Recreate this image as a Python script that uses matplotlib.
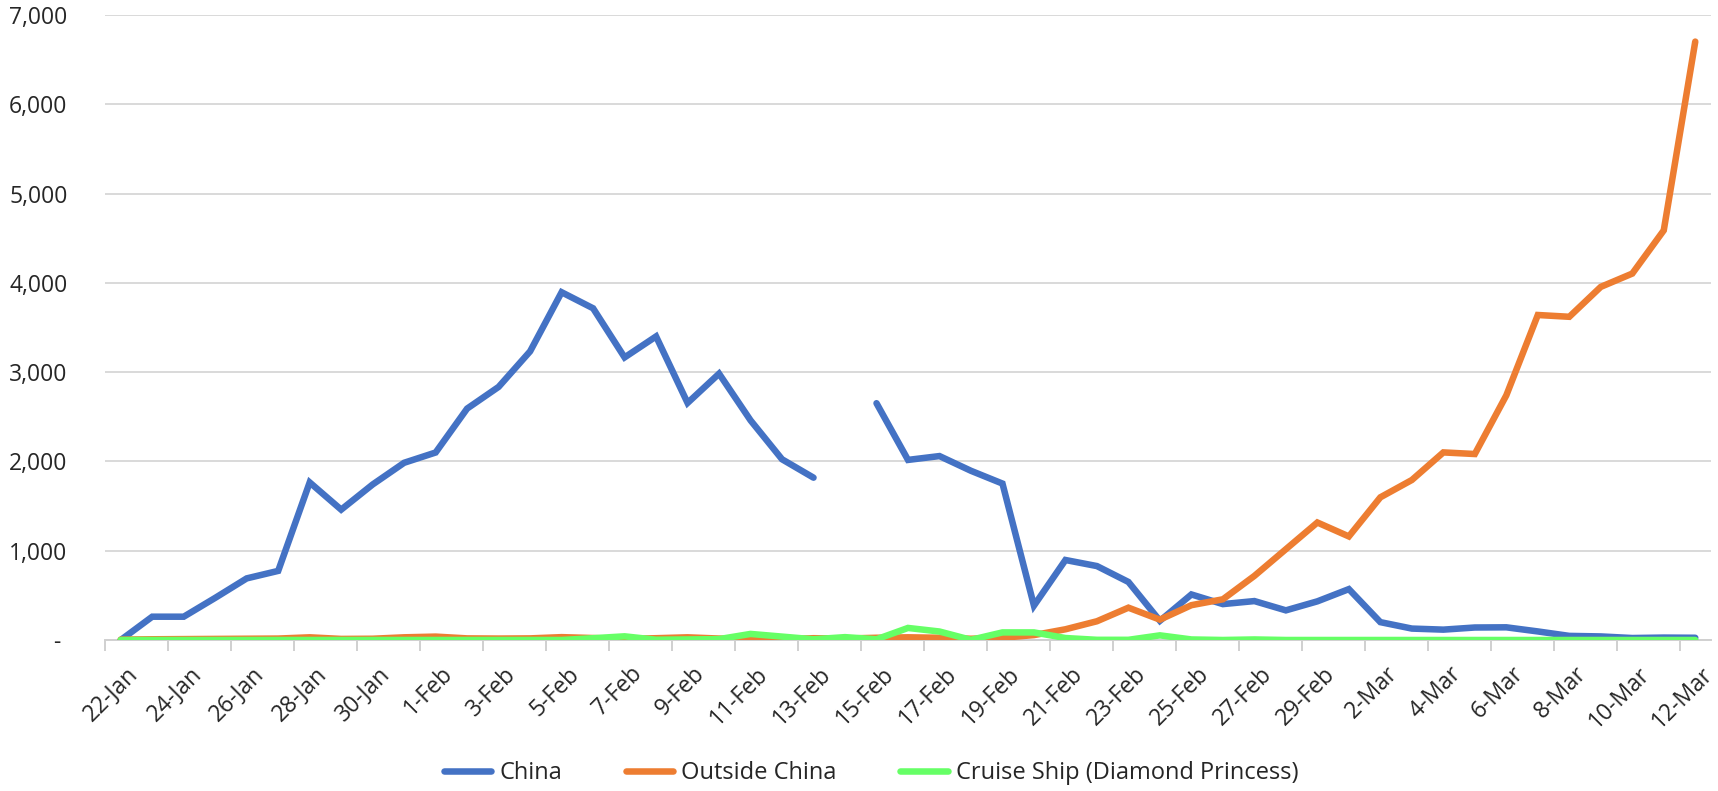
import numpy as np
import matplotlib
matplotlib.use("Agg")
import matplotlib.pyplot as plt
from matplotlib.ticker import FixedLocator, FuncFormatter
from matplotlib.transforms import ScaledTranslation

plt.rcParams['font.family'] = ['Open Sans', 'DejaVu Sans']

dates = ["22-Jan", "23-Jan", "24-Jan", "25-Jan", "26-Jan", "27-Jan", "28-Jan", "29-Jan", "30-Jan", "31-Jan",
         "1-Feb", "2-Feb", "3-Feb", "4-Feb", "5-Feb", "6-Feb", "7-Feb", "8-Feb", "9-Feb", "10-Feb",
         "11-Feb", "12-Feb", "13-Feb", "14-Feb", "15-Feb", "16-Feb", "17-Feb", "18-Feb", "19-Feb", "20-Feb",
         "21-Feb", "22-Feb", "23-Feb", "24-Feb", "25-Feb", "26-Feb", "27-Feb", "28-Feb", "29-Feb", "1-Mar",
         "2-Mar", "3-Mar", "4-Mar", "5-Mar", "6-Mar", "7-Mar", "8-Mar", "9-Mar", "10-Mar", "11-Mar", "12-Mar"]

china = [0, 261, 261, 472, 690, 774, 1765, 1460, 1742, 1985,
         2100, 2592, 2835, 3233, 3895, 3715, 3165, 3400, 2655, 2983,
         2460, 2024, 1818, np.nan, 2652, 2017, 2060, 1895, 1752, 385,
         896, 828, 650, 215, 510, 402, 436, 332, 433, 570,
         200, 128, 116, 140, 142, 96, 46, 40, 22, 27, 25]

outside = [4, 8, 10, 12, 14, 16, 30, 12, 14, 30,
           38, 18, 16, 18, 32, 22, 12, 20, 30, 16,
           10, 10, 20, 16, 25, 30, 25, 14, 25, 55,
           120, 210, 362, 228, 390, 456, 718, 1017, 1316, 1160,
           1598, 1792, 2101, 2083, 2740, 3640, 3620, 3955, 4104, 4588, 6702]

cruise = [0, 0, 0, 0, 0, 0, 0, 0, 0, 0,
          0, 0, 0, 0, 0, 20, 41, 3, 6, 10,
          68, 38, 8, 32, 8, 135, 95, 2, 85, 85,
          22, 2, 2, 52, 6, 0, 6, 0, 0, 0,
          0, 0, 0, 0, 0, 0, 0, 0, 0, 0, 0]

series = [("China", china, "#4472C4"),
          ("Outside China", outside, "#ED7D31"),
          ("Cruise Ship (Diamond Princess)", cruise, "#66FF66")]

TXT = '#262626'
W, H = 1718, 791
fig = plt.figure(figsize=(W / 100, H / 100), dpi=100)
ax = fig.add_axes([105 / W, 1 - 640 / H, (1711 - 105) / W, (640 - 15) / H])

x = np.arange(len(dates))
handles = []
for name, vals, col in series:
    h, = ax.plot(x, vals, color=col, lw=4.7, solid_joinstyle='miter', solid_capstyle='round', label=name, zorder=3)
    handles.append(h)

ax.set_xlim(-0.5, len(dates) - 0.5)
ax.set_ylim(0, 7000)
ax.set_yticks(np.arange(0, 7001, 1000))
ax.yaxis.set_major_formatter(FuncFormatter(lambda v, p: "- " if v == 0 else f"{int(v):,}"))
ax.grid(axis='y', color='#d9d9d9', lw=1.4, zorder=0)
for s in ['top', 'right', 'left']:
    ax.spines[s].set_visible(False)
ax.spines['bottom'].set_color('#d0d0d0')
ax.spines['bottom'].set_linewidth(1.4)

lab_pos = x[::2]
ax.set_xticks(lab_pos)
ax.set_xticklabels([dates[i] for i in lab_pos], rotation=45, ha='right', va='center', rotation_mode='anchor')
ax.xaxis.set_minor_locator(FixedLocator(np.arange(-0.5, len(dates) - 1, 2)))
ax.tick_params(axis='x', which='major', length=0, pad=22, labelsize=16.5, labelcolor=TXT)
ax.tick_params(axis='x', which='minor', length=8, width=1.4, color='#d0d0d0')
ax.tick_params(axis='y', length=0, pad=27, labelsize=16.5, labelcolor=TXT)

shift = ScaledTranslation(14 / 100, 0, fig.dpi_scale_trans)
for lab in ax.get_xticklabels():
    lab.set_transform(lab.get_transform() + shift)

fig.legend(handles=handles, loc='center', bbox_to_anchor=(871 / W, 1 - 773 / H), ncol=3, frameon=False,
           fontsize=17, handlelength=2.0, handletextpad=0.35, columnspacing=2.7, labelcolor=TXT)

fig.savefig("out.png", dpi=100)
